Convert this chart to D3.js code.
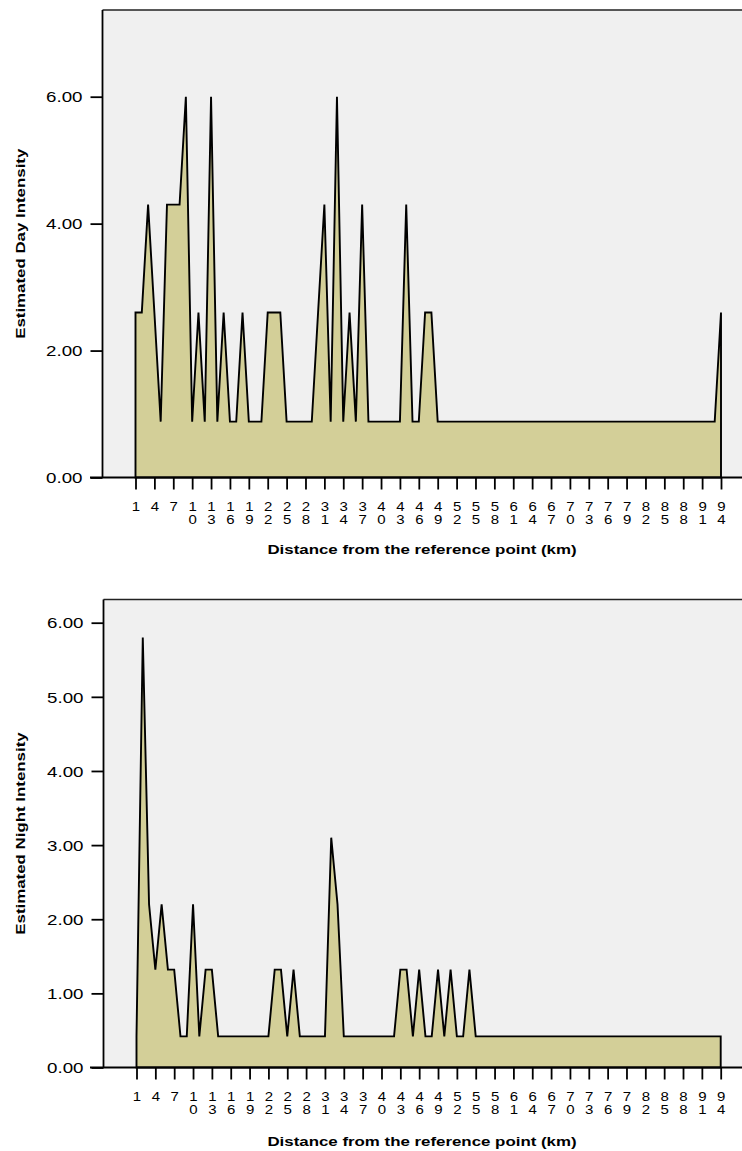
<!DOCTYPE html>
<html>
<head>
<meta charset="utf-8">
<script src="https://cdn.jsdelivr.net/npm/d3@7"></script>
<style>
  body { margin: 0; background: #fff; }
  svg { display: block; font-family: Arial, "Liberation Sans", sans-serif; }
</style>
</head>
<body>
<div id="app"></div>
<script>
// distance categories (km)
const distances = [
  1, 2, 3, 4, 5, 6, 7, 8, 9, 10, 11, 12, 13, 14, 15, 16, 17, 18, 19, 20,
  21, 22, 23, 24, 25, 26, 27, 28, 29, 30, 31, 32, 33, 34, 35, 36, 37, 38, 39, 40,
  41, 42, 43, 44, 45, 46, 47, 48, 49, 50, 51, 52, 53, 54, 55, 56, 57, 58, 59, 60,
  61, 62, 63, 64, 65, 66, 67, 68, 69, 70, 71, 72, 73, 74, 75, 76, 77, 78, 79, 80,
  81, 82, 83, 84, 85, 86, 87, 88, 89, 90, 91, 92, 93, 94
];
// labelled ticks, every 3 km
const tickLabels = [1, 4, 7, 10, 13, 16, 19, 22, 25, 28, 31, 34, 37, 40, 43, 46,
  49, 52, 55, 58, 61, 64, 67, 70, 73, 76, 79, 82, 85, 88, 91, 94];

const dayIntensity = [
  2.6, 2.6, 4.3, 2.6, 0.88, 4.3, 4.3, 4.3, 6.0, 0.88,
  2.6, 0.88, 6.0, 0.88, 2.6, 0.88, 0.88, 2.6, 0.88, 0.88,
  0.88, 2.6, 2.6, 2.6, 0.88, 0.88, 0.88, 0.88, 0.88, 2.6,
  4.3, 0.88, 6.0, 0.88, 2.6, 0.88, 4.3, 0.88, 0.88, 0.88,
  0.88, 0.88, 0.88, 4.3, 0.88, 0.88, 2.6, 2.6, 0.88, 0.88,
  0.88, 0.88, 0.88, 0.88, 0.88, 0.88, 0.88, 0.88, 0.88, 0.88,
  0.88, 0.88, 0.88, 0.88, 0.88, 0.88, 0.88, 0.88, 0.88, 0.88,
  0.88, 0.88, 0.88, 0.88, 0.88, 0.88, 0.88, 0.88, 0.88, 0.88,
  0.88, 0.88, 0.88, 0.88, 0.88, 0.88, 0.88, 0.88, 0.88, 0.88,
  0.88, 0.88, 0.88, 2.6
];

const nightIntensity = [
  0.42, 5.8, 2.2, 1.32, 2.2, 1.32, 1.32, 0.42, 0.42, 2.2,
  0.42, 1.32, 1.32, 0.42, 0.42, 0.42, 0.42, 0.42, 0.42, 0.42,
  0.42, 0.42, 1.32, 1.32, 0.42, 1.32, 0.42, 0.42, 0.42, 0.42,
  0.42, 3.1, 2.2, 0.42, 0.42, 0.42, 0.42, 0.42, 0.42, 0.42,
  0.42, 0.42, 1.32, 1.32, 0.42, 1.32, 0.42, 0.42, 1.32, 0.42,
  1.32, 0.42, 0.42, 1.32, 0.42, 0.42, 0.42, 0.42, 0.42, 0.42,
  0.42, 0.42, 0.42, 0.42, 0.42, 0.42, 0.42, 0.42, 0.42, 0.42,
  0.42, 0.42, 0.42, 0.42, 0.42, 0.42, 0.42, 0.42, 0.42, 0.42,
  0.42, 0.42, 0.42, 0.42, 0.42, 0.42, 0.42, 0.42, 0.42, 0.42,
  0.42, 0.42, 0.42, 0.42
];

const dayTicks = [0, 2, 4, 6];
const nightTicks = [0, 1, 2, 3, 4, 5, 6];

const W = 742, H = 1151;
const STRETCH = 1.25; // text in the original is drawn wide

const svg = d3.select("#app").append("svg").attr("width", W).attr("height", H);

const buildChart = (opts) => {
  const { values, ticks, yTitle, left, top, zeroY, sixY, xFirst, xLast, titleY } = opts;

  const x = d3.scalePoint().domain(distances).range([xFirst, xLast]);
  const y = d3.scaleLinear().domain([0, 6]).range([zeroY, sixY]);

  const g = svg.append("g");

  //plot background
  g.append("rect")
    .attr("x", left)
    .attr("y", top)
    .attr("width", W + 10 - left)
    .attr("height", zeroY - top)
    .attr("fill", "#f0f0f0");

  g.append("line")
    .attr("x1", left).attr("x2", W + 10)
    .attr("y1", top).attr("y2", top)
    .attr("stroke", "#222").attr("stroke-width", 1.6);

  //area
  const data = distances.map((d, i) => ({ km: d, v: values[i] }));
  const area = d3.area()
    .x((d) => x(d.km))
    .y0(y(0))
    .y1((d) => y(d.v));

  g.append("path")
    .datum(data)
    .attr("d", area)
    .attr("fill", "#d3cf98")
    .attr("stroke", "#000")
    .attr("stroke-width", 1.9)
    .attr("stroke-linejoin", "miter");

  //y axis
  const yAxis = d3.axisLeft(y).tickValues(ticks).tickSize(12).tickPadding(8)
    .tickFormat(d3.format(".2f"));
  const ya = g.append("g")
    .attr("transform", `translate(${left},0)`)
    .call(yAxis);
  ya.select(".domain").attr("stroke-width", 1.8)
    .attr("d", `M0,${top}V${zeroY}`);
  ya.selectAll(".tick line").attr("stroke-width", 1.8);
  ya.selectAll(".tick text")
    .attr("x", null)
    .attr("dy", "0.35em")
    .attr("transform", `translate(-20,0) scale(${STRETCH},1)`)
    .style("font-size", "15px")
    .attr("fill", "#000");

  //x axis
  const xAxis = d3.axisBottom(x).tickValues(tickLabels).tickSize(12).tickFormat("");
  const xa = g.append("g")
    .attr("transform", `translate(0,${zeroY})`)
    .call(xAxis);
  xa.select(".domain").attr("stroke-width", 1.8)
    .attr("d", `M90,0H${W + 10}`);
  xa.selectAll(".tick line").attr("stroke-width", 1.8);

  //stacked digit labels
  xa.selectAll(".tick")
    .append("text")
    .attr("fill", "#000")
    .style("font-size", "12.5px")
    .attr("text-anchor", "middle")
    .attr("transform", `scale(1.2,1)`)
    .selectAll("tspan")
    .data((d) => String(d).split(""))
    .join("tspan")
    .attr("x", 0)
    .attr("y", (d, i) => 33.5 + i * 13.3)
    .text((d) => d);

  //x title
  svg.append("text")
    .attr("transform", `translate(422,${titleY}) scale(${STRETCH},1)`)
    .attr("text-anchor", "middle")
    .style("font-size", "13.5px")
    .style("font-weight", "bold")
    .text("Distance from the reference point (km)");

  //y title
  svg.append("text")
    .attr("transform", `translate(25,${(top + zeroY) / 2}) rotate(-90) scale(${STRETCH},1)`)
    .attr("text-anchor", "middle")
    .style("font-size", "13.5px")
    .style("font-weight", "bold")
    .text(yTitle);
};

buildChart({
  values: dayIntensity,
  ticks: dayTicks,
  yTitle: "Estimated Day Intensity",
  left: 102.5, top: 10, zeroY: 477.5, sixY: 96.7,
  xFirst: 135.5, xLast: 721, titleY: 554
});

buildChart({
  values: nightIntensity,
  ticks: nightTicks,
  yTitle: "Estimated Night Intensity",
  left: 103.5, top: 599.5, zeroY: 1067.5, sixY: 622.7,
  xFirst: 136.5, xLast: 720.7, titleY: 1146
});
</script>
</body>
</html>
